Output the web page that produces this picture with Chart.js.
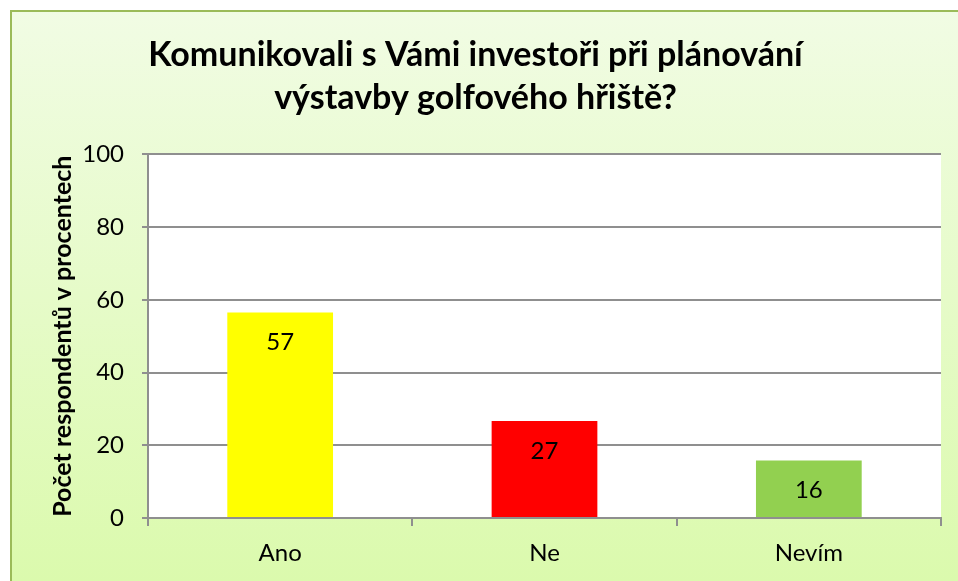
<!DOCTYPE html>
<html>
<head>
<meta charset="utf-8">
<script src="https://cdn.jsdelivr.net/npm/chart.js@4"></script>
<style>
  body { margin: 0; background: #fff; }
  #wrap { width: 958px; height: 581px; }
</style>
</head>
<body>
<div id="wrap"><canvas id="mychart" width="958" height="581"></canvas></div>
<script>
var categories = ["Ano", "Ne", "Nevím"];
var values = [56.5, 26.7, 15.8];
var barColors = ["#FFFF00", "#FF0000", "#92D050"];
var yTicks = [0, 20, 40, 60, 80, 100];

// pozadi s prechodem a bily plot
var bgPlugin = {
  id: "bg",
  beforeDraw: function(chart) {
    var c = chart.ctx;
    c.save();
    c.fillStyle = "#fff";
    c.fillRect(0, 0, chart.width, chart.height);
    var g = c.createLinearGradient(0, 10, 0, chart.height);
    g.addColorStop(0, "#F1FCE4");
    g.addColorStop(1, "#DBFAAD");
    c.fillStyle = g;
    c.fillRect(10, 10, chart.width - 10, chart.height - 10);
    c.strokeStyle = "#9BBB59";
    c.lineWidth = 2;
    c.beginPath();
    c.moveTo(11, chart.height);
    c.lineTo(11, 11);
    c.lineTo(chart.width, 11);
    c.stroke();
    var a = chart.chartArea;
    c.fillStyle = "#fff";
    c.fillRect(a.left, a.top, a.right - a.left, a.bottom - a.top);
    c.restore();
  }
};

var labelPlugin = {
  id: "vals",
  afterDatasetsDraw: function(chart) {
    var c = chart.ctx;
    var meta = chart.getDatasetMeta(0);
    c.save();
    c.font = "24px Lato";
    c.fillStyle = "#000";
    c.textAlign = "center";
    c.textBaseline = "middle";
    meta.data.forEach(function(bar, i) {
      c.fillText(Math.round(values[i]), bar.x, bar.y + 30);
    });
    c.restore();
  }
};

var x = document.querySelector("#mychart").getContext("2d");
var chart = new Chart(x, {
  type: "bar",
  data: {
    labels: categories,
    datasets: [{
      label: "Počet respondentů v procentech",
      data: values,
      backgroundColor: barColors,
      barPercentage: 0.4,
      categoryPercentage: 1
    }]
  },
  options: {
    responsive: false,
    animation: false,
    layout: { padding: { left: 10, right: 17, top: 0, bottom: 0 } },
    plugins: {
      legend: { display: false },
      tooltip: { enabled: false },
      title: {
        display: true,
        text: ["Komunikovali s Vámi investoři při plánování", "výstavby golfového hřiště?"],
        color: "#000",
        font: { family: "Lato", size: 34, weight: "bold", lineHeight: 1.27 },
        padding: { top: 33, bottom: 35 }
      }
    },
    scales: {
      x: {
        grid: { drawOnChartArea: false, drawTicks: true, tickLength: 8, color: "#8F8F8F", lineWidth: 2 },
        border: { color: "#8F8F8F", width: 2 },
        ticks: { color: "#000", font: { family: "Lato", size: 24 }, padding: 13 },
        afterFit: function(s) { s.height = 63; }
      },
      y: {
        min: 0,
        max: 100,
        afterBuildTicks: function(s) { s.ticks = yTicks.map(function(v) { return { value: v }; }); },
        grid: { color: "#8F8F8F", lineWidth: 2, tickLength: 6 },
        border: { color: "#8F8F8F", width: 2 },
        ticks: { color: "#000", font: { family: "Lato", size: 24 }, padding: 18 },
        title: {
          display: true,
          text: "Počet respondentů v procentech",
          color: "#000",
          font: { family: "Lato", size: 25, weight: "bold" },
          padding: { top: 38 }
        },
        afterFit: function(s) { s.width = 138; }
      }
    }
  },
  plugins: [bgPlugin, labelPlugin]
});
</script>
</body>
</html>
